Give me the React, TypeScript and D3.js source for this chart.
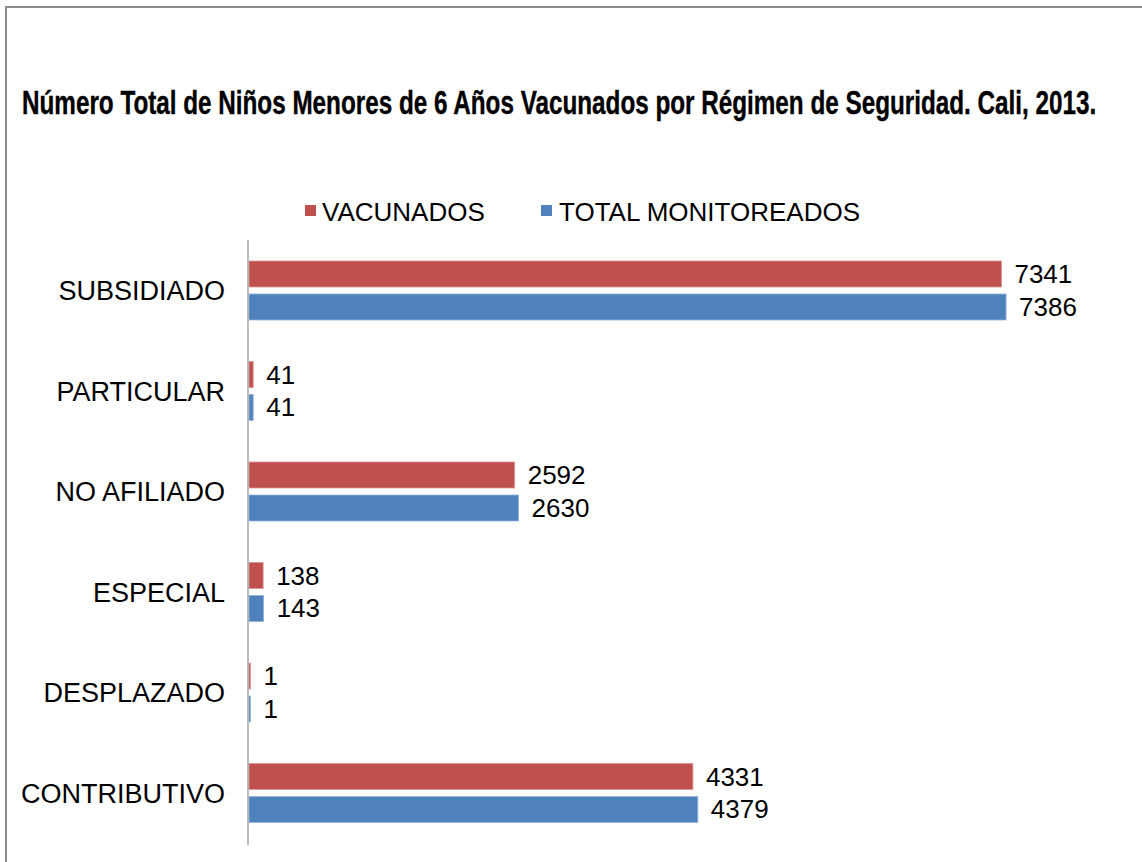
import React, { useLayoutEffect, useRef } from "react";
import * as d3 from "d3";

const categories = ["SUBSIDIADO", "PARTICULAR", "NO AFILIADO", "ESPECIAL", "DESPLAZADO", "CONTRIBUTIVO"];
const seriesNames = ["VACUNADOS", "TOTAL MONITOREADOS"];
const vacunados = [7341, 41, 2592, 138, 1, 4331];
const totalMonitoreados = [7386, 41, 2630, 143, 1, 4379];
const seriesColors = ["#C0504D", "#4F81BD"];
const title = "Número Total de Niños Menores de 6 Años Vacunados por Régimen de Seguridad. Cali, 2013.";

const W = 1142;
const H = 862;
const FONT = "'Liberation Sans', Arial, sans-serif";

export default function App() {
  const titleRef = useRef<SVGTextElement>(null);

  // squeeze the title horizontally so it spans the same width as the condensed original
  useLayoutEffect(() => {
    const t = titleRef.current;
    if (!t) return;
    const natural = t.getComputedTextLength();
    const sx = 1074 / natural;
    d3.select(t).attr("transform", `translate(22,114) scale(${sx},1)`);
  }, []);

  const x = d3.scaleLinear().domain([0, 8000]).range([249, 1069]);
  const y = d3.scaleBand().domain(categories).range([240, 843]).padding(0);
  const inner = d3.scaleBand().domain(seriesNames).range([21, 80]).paddingInner(0.212).paddingOuter(0);
  const values = [vacunados, totalMonitoreados];

  return (
    <svg width={W} height={H} style={{ position: "absolute", left: 0, top: 0, background: "#fff" }}>
      {/* frame */}
      <line x1={5} y1={7} x2={W} y2={7} stroke="#8c8c8c" strokeWidth={2} />
      <line x1={6} y1={7} x2={6} y2={H} stroke="#8c8c8c" strokeWidth={2} />

      <text
        ref={titleRef}
        transform="translate(22,114) scale(0.78,1)"
        fontFamily="'Liberation Sans Narrow', 'Arial Narrow', 'Liberation Sans', Arial, sans-serif"
        fontWeight="bold"
        fontSize={33}
        stroke="#000"
        strokeWidth={0.4}
        fill="#000"
      >
        {title}
      </text>

      {/* legend */}
      <g fontFamily={FONT} fontSize={26}>
        <rect x={305} y={205} width={11} height={11} fill={seriesColors[0]} />
        <text x={322} y={221} fill="#000">{seriesNames[0]}</text>
        <rect x={541} y={205} width={11} height={11} fill={seriesColors[1]} />
        <text x={559} y={221} fill="#000">{seriesNames[1]}</text>
      </g>

      {categories.map((c, ci) => (
        <g key={c}>
          <text
            x={225}
            y={(y(c) as number) + y.bandwidth() / 2 + 10}
            textAnchor="end"
            fontFamily={FONT}
            fontSize={27}
            fill="#000"
          >
            {c}
          </text>
          {seriesNames.map((s, si) => {
            const v = values[si][ci];
            const by = (y(c) as number) + (inner(s) as number);
            const bw = Math.max(x(v) - x(0), 1.5);
            return (
              <g key={s}>
                <rect x={x(0)} y={by} width={bw} height={inner.bandwidth()} fill={seriesColors[si]} stroke={si === 0 ? "#d99694" : "#95b3d7"} strokeWidth={0.8} />
                <text x={x(0) + bw + 13} y={by + inner.bandwidth() / 2 + 9} fontFamily={FONT} fontSize={26} fill="#000">
                  {v}
                </text>
              </g>
            );
          })}
        </g>
      ))}

      <line x1={248} y1={240} x2={248} y2={845} stroke="#a6a6a6" strokeWidth={1.5} />
    </svg>
  );
}
